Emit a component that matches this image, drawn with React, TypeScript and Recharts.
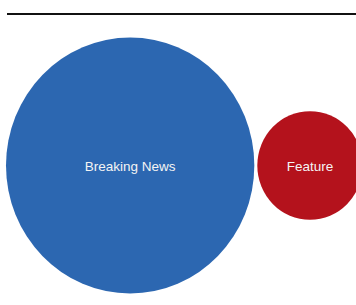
import React from "react";
import { ScatterChart, Scatter, XAxis, YAxis, ZAxis } from "recharts";

const categories = ["Breaking News", "Feature"];
const values = [100, 18];
const colors = ["#2c67b1", "#b4121c"];

const W = 356;
const H = 305;
const MAX_R = 128; // radius of the largest bubble (px)
const SQUASH = 0.97; // horizontal aspect of the bubbles
const LEFT_PAD = 6;
const GAP = 3;

const maxVal = Math.max(...values);
const radius = (v: number) => MAX_R * Math.sqrt(v / maxVal);

// simple side-by-side packing computed from the values
const packX: number[] = [];
values.forEach((v, i) => {
  const rx = radius(v) * SQUASH;
  if (i === 0) packX.push(LEFT_PAD + rx);
  else {
    const prx = radius(values[i - 1]) * SQUASH;
    packX.push(packX[i - 1] + prx + GAP + rx);
  }
});

const data = categories.map((name, i) => ({
  name,
  value: values[i],
  x: packX[i],
  y: 0,
  color: colors[i],
}));

const Bubble = (props: any) => {
  const { cx, cy, width, payload } = props;
  const r = width / 2;
  return (
    <g>
      <ellipse cx={cx} cy={cy} rx={r * SQUASH} ry={r} fill={payload.color} />
      <text
        x={cx}
        y={cy + 1}
        textAnchor="middle"
        dominantBaseline="central"
        fill="#f4f4f4"
        fontSize={13.5}
        fontFamily="Liberation Sans, Arial, sans-serif"
      >
        {payload.name}
      </text>
    </g>
  );
};

export default function App() {
  return (
    <div style={{ position: "absolute", left: 0, top: 0, width: W, height: H, background: "#fff", overflow: "hidden" }}>
      <div style={{ position: "absolute", left: 7, top: 13, width: 349, height: 2, background: "#111" }} />
      <ScatterChart width={W} height={H} margin={{ top: 26, right: 0, bottom: 0, left: 0 }}>
        <XAxis type="number" dataKey="x" domain={[0, W]} hide />
        <YAxis type="number" dataKey="y" domain={[-1, 1]} hide />
        <ZAxis type="number" dataKey="value" domain={[0, maxVal]} range={[0, Math.PI * MAX_R * MAX_R]} />
        <Scatter data={data} shape={<Bubble />} isAnimationActive={false} />
      </ScatterChart>
    </div>
  );
}
